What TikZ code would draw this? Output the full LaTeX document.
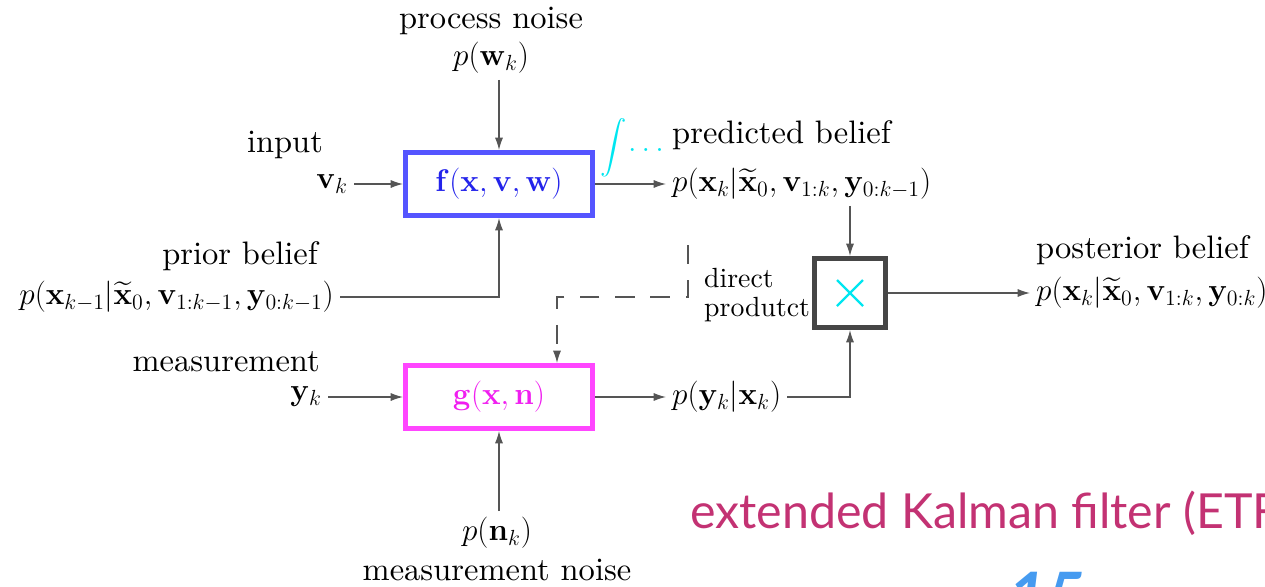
\RequirePackage{fix-cm}
\documentclass[tikz,border=0pt]{standalone}
\usepackage{amsmath,amssymb,bm}
\usepackage[no-math]{fontspec}
\usepackage{xcolor}
\usepackage{tikz}
\usetikzlibrary{arrows.meta,positioning}
\setmainfont{lmroman10-regular}[Extension=.otf, BoldFont=lmroman10-bold, ItalicFont=lmroman10-italic]
\newfontfamily\slidefont{Lato}
\definecolor{fblue}{RGB}{85,85,255}
\definecolor{ftext}{RGB}{35,35,235}
\definecolor{gmag}{RGB}{255,70,255}
\definecolor{gtext}{RGB}{240,30,240}
\definecolor{boxgray}{RGB}{70,70,70}
\definecolor{linegray}{RGB}{85,85,85}
\definecolor{mycyan}{RGB}{0,230,240}
\definecolor{slidepink}{RGB}{195,50,115}
\definecolor{slideblue}{RGB}{70,155,240}

\begin{document}
\begin{tikzpicture}[x=0.02cm, y=-0.02cm, >={Latex[length=7pt,width=4.6pt]},
  font=\fontsize{17.8}{21}\selectfont,
  conn/.style={linegray, line width=0.7pt},
  lbl/.style={font=\fontsize{18.5}{22}\selectfont},
  blk/.style={draw, line width=0.1cm, minimum width=3.74cm, minimum height=1.26cm, fill=white}]
  \clip (0,0) rectangle (1265,586);
  \node[blk, draw=fblue, text=ftext] (f) at (499,184) {$\mathbf{f}(\mathbf{x},\mathbf{v},\mathbf{w})$};
  \node[blk, draw=gmag, text=gtext] (g) at (499,397) {$\mathbf{g}(\mathbf{x},\mathbf{n})$};
  \node[draw=boxgray, line width=0.1cm, minimum width=1.42cm, minimum height=1.38cm] (times) at (850,293) {};
  \node[lbl] (pnoise) at (491,21) {process noise};
  \node (pw) at (491,58) {$p(\mathbf{w}_k)$};
  \node[lbl] (inp) at (285,145) {input};
  \node[anchor=east] (vk) at (354,184) {$\mathbf{v}_k$};
  \node[text=mycyan, font=\fontsize{15}{18}\selectfont] (intg) at (614,148) {$\displaystyle\int$};
  \node[text=mycyan] (idots) at (646,150) {$\ldots$};
  \node[lbl, anchor=west] (predlbl) at (666,135) {predicted belief};
  \node[anchor=west] (pred) at (666,184) {$p(\mathbf{x}_k|\widetilde{\mathbf{x}}_0,\mathbf{v}_{1:k},\mathbf{y}_{0:k-1})$};
  \node[anchor=west, align=left, font=\fontsize{15.8}{17}\selectfont] (dprod) at (698,295) {direct\\produtct};
  \node[lbl, anchor=west] (postlbl) at (1030,250) {posterior belief};
  \node[anchor=west] (post) at (1030,293) {$p(\mathbf{x}_k|\widetilde{\mathbf{x}}_0,\mathbf{v}_{1:k},\mathbf{y}_{0:k})$};
  \node[lbl, anchor=east] (priorlbl) at (324,256) {prior belief};
  \node[anchor=east] (prior) at (340,297) {$p(\mathbf{x}_{k-1}|\widetilde{\mathbf{x}}_0,\mathbf{v}_{1:k-1},\mathbf{y}_{0:k-1})$};
  \node[lbl, anchor=east] (meas) at (326,362) {measurement};
  \node[anchor=east] (yk) at (328,397) {$\mathbf{y}_k$};
  \node[anchor=west] (lik) at (666,397) {$p(\mathbf{y}_k|\mathbf{x}_k)$};
  \node (pnk) at (497,533) {$p(\mathbf{n}_k)$};
  \node[lbl] (mnoise) at (497,570) {measurement noise};
  \node[anchor=west, text=slidepink, font=\slidefont\fontsize{27.5}{31}\selectfont] (title) at (684,513) {extended Kalman filter (ETF};
  \node[anchor=north west, text=slideblue, font=\slidefont\bfseries\itshape\fontsize{38}{44}\selectfont] (slno) at (1002,566) {15};
  \coordinate (dtop) at (688,245);
  \coordinate (dmid) at (557,297);
  \draw[conn,->] (f.north |- pw.south) -- (f.north);
  \draw[conn,->] (vk) -- (f);
  \draw[conn,->] (f) -- (pred);
  \draw[conn,->] (times.north |- pred.south) -- (times.north);
  \draw[conn,->, dash pattern=on 11pt off 9pt] (dtop) |- (dmid) -- (dmid |- g.north);
  \draw[conn,->] (prior.east) -| (f.south);
  \draw[conn,->] (times) -- (post);
  \draw[conn,->] (yk) -- (g);
  \draw[conn,->] (g) -- (lik);
  \draw[conn,->] (lik.east) -| (times.south);
  \draw[conn,->] (g.south |- pnk.north) -- (g.south);
  \draw[mycyan, line width=1.3pt] ([shift={(-13,-13)}]times.center) -- ([shift={(13,13)}]times.center)
    ([shift={(-13,13)}]times.center) -- ([shift={(13,-13)}]times.center);
\end{tikzpicture}
\end{document}
